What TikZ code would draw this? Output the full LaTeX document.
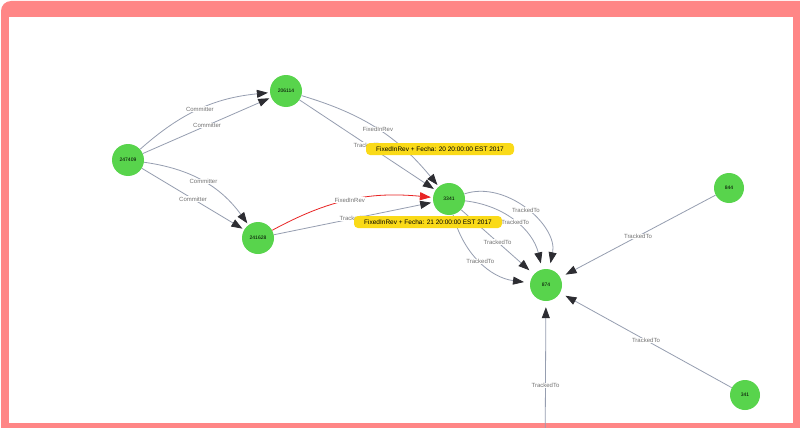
\documentclass[tikz,border=0pt]{standalone}
\usepackage{fontspec}
\setmainfont{Liberation Sans}
\usetikzlibrary{arrows.meta}
\definecolor{nodegreen}{RGB}{88,212,76}
\definecolor{edgegray}{RGB}{150,158,176}
\definecolor{tipgray}{RGB}{45,45,50}
\definecolor{linkred}{RGB}{232,36,36}
\definecolor{framepink}{RGB}{255,134,134}
\definecolor{tipyellow}{RGB}{250,218,24}

\begin{document}
\begin{tikzpicture}[
x=1pt, y=-1pt,
commit/.style = {
	circle,
	fill=nodegreen,
	minimum size=32pt,
	inner sep=0pt,
	font=\fontsize{5}{6}\selectfont
	},
lbl/.style = {
	font=\fontsize{6}{7}\selectfont,
	text=black!55,
	fill=white,
	inner sep=0.5pt
	},
hint/.style = {
	fill=tipyellow,
	rounded corners=4pt,
	inner sep=2pt,
	minimum height=12pt,
	minimum width=148pt,
	font=\fontsize{6.5}{7}\selectfont
	},
relArr/.style = {
	-{Triangle[length=11pt,width=8pt,color=tipgray]},
	edgegray,
	line width=0.8pt,
	shorten >=2pt
	},
fixArr/.style = {
	-{Triangle[length=11pt,width=8pt]},
	linkred,
	line width=0.8pt,
	shorten >=2pt
	}
]

% FRAME
\useasboundingbox (0,0) rectangle (800,428);
\clip (0,0) rectangle (800,428);
\fill [framepink, rounded corners=10pt] (1,1) rectangle (820,450);
\fill [white] (9,17) rectangle (793,423);

% COMMIT NODES
\node [commit] (c247409) at (128,160) {247409};
\node [commit] (c206114) at (286,91) {206114};
\node [commit] (c241628) at (258,238) {241628};

% ISSUE NODES
\node [commit] (i3341) at (449,199) {3341};
\node [commit] (i874) at (546,285) {874};
\node [commit, minimum size=30pt] (i844) at (729,188) {844};
\node [commit, minimum size=30pt] (i341) at (745,395) {341};
\coordinate (offBelow) at (545,470);

% PATHS
\draw [relArr] (c247409) to [bend left=18] node [lbl] {Committer} (c206114);
\draw [relArr] (c247409) to node [lbl] {Committer} (c206114);
\draw [relArr] (c247409) to [bend left=23] node [lbl] {Committer} (c241628);
\draw [relArr] (c247409) to node [lbl] {Committer} (c241628);
\draw [relArr] (c206114) to [bend left=17] node [lbl] {FixedInRev} (i3341);
\draw [relArr] (c206114) to node [lbl] {TrackedTo} (i3341);
\draw [fixArr] (c241628) to [bend left=17] node [lbl] {FixedInRev} (i3341);
\draw [relArr] (c241628) to node [lbl] {TrackedTo} (i3341);
\draw [relArr, shorten >=6pt] (i3341) to [bend left=60] node [lbl] {TrackedTo} (i874);
\draw [relArr, shorten >=6pt] (i3341) to [bend left=35] node [lbl] {TrackedTo} (i874);
\draw [relArr, shorten >=6pt] (i3341) to node [lbl] {TrackedTo} (i874);
\draw [relArr, shorten >=6pt] (i3341) to [bend right=34] node [lbl] {TrackedTo} (i874);
\draw [relArr, shorten >=6pt] (i844) to node [lbl] {TrackedTo} (i874);
\draw [relArr, shorten >=6pt] (i341) to node [lbl] {TrackedTo} (i874);
\draw [relArr, shorten >=6pt] (offBelow) to node [lbl] {TrackedTo} (i874);

% TOOLTIPS
\node [hint] (tipA) at (440,149) {FixedInRev + Fecha: 20 20:00:00 EST 2017};
\node [hint] (tipB) at (428,222) {FixedInRev + Fecha: 21 20:00:00 EST 2017};
\end{tikzpicture}
\end{document}
